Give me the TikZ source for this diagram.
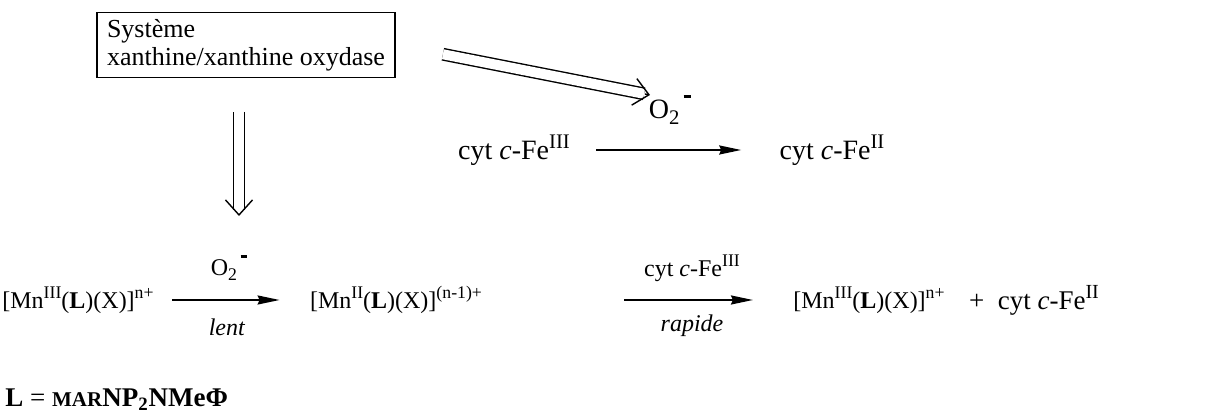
\documentclass[tikz,border=0pt]{standalone}
\usepackage{fontspec}
\setmainfont{Liberation Serif}
\usetikzlibrary{positioning,arrows.meta,calc}

\newcommand{\sups}[1]{\raisebox{0.4em}{\scalebox{0.74}{#1}}}
\newcommand{\superox}{O\raisebox{-0.22em}{\scalebox{0.74}{2}}\kern0.15em\raisebox{0.74em}{\rule{0.27em}{0.11em}}}
\newcommand{\cytFe}[1]{cyt \textit{c}-Fe\sups{#1}}
\newcommand{\mnc}[2]{[Mn\sups{#1}(\textbf{L})(X)]\sups{#2}}

\begin{document}
\begin{tikzpicture}[x=0.5pt, y=-0.5pt, font=\fontsize{12}{14}\selectfont,
        rxn/.style={-{Stealth[length=11pt, width=4.5pt, inset=1pt]}, line width=1pt},
        dbl/.style={double, double distance=5pt, line width=0.7pt, shorten >=3pt},
        chev/.style={-{Straight Barb[length=7.5pt, width=13.5pt]}, line width=0.7pt},
        txt/.style={inner sep=0pt},
        big/.style={txt, font=\fontsize{14}{16}\selectfont}]
        \useasboundingbox (0,0) rectangle (1217,415);

        % Source of superoxide
        \node[draw, line width=0.8pt, align=left, minimum width=149pt, minimum height=30pt,
              inner xsep=3pt, font=\fontsize{13}{14}\selectfont] (src) at (246,45) {Système\\xanthine/xanthine oxydase};

        % Upper reaction: cytochrome c reduction
        \node[big] (ox2) at (670,110) {\superox};
        \node[big] (cyt3) at (514,150) {\cytFe{III}};
        \node[big] (cyt2) at (832,150) {\cytFe{II}};

        % Lower reaction: the Mn complex
        \node[txt] (mn1) at (78,300) {\mnc{III}{n+}};
        \node[txt] (mn2) at (396,300) {\mnc{II}{(n-1)+}};
        \node[txt] (mn3) at (869,300) {\mnc{III}{n+}};
        \node[txt, font=\fontsize{13.5}{16}\selectfont] (cyt2b) at (1034,300) {+\ \ \cytFe{II}};

        % Reagents and conditions over/under the arrows
        \node[txt] (ox1) at (229,268) {\superox};
        \node[txt] (lent) at (227,327) {\textit{lent}};
        \node[txt] (cyt3b) at (692,268) {\cytFe{III}};
        \node[txt] (rap) at (692,326) {\textit{rapide}};

        % Double arrows from the source
        \coordinate (vtop) at (239,112);
        \coordinate (vbot) at (239,216);
        \coordinate (dtip) at (650,95);
        \draw[dbl] (vtop) -- (vbot);
        \draw[chev] ($(vtop)!0.98!(vbot)$) -- (vbot);
        \draw[dbl, shorten <=24pt] (src.east) -- (dtip);
        \draw[chev] ($(src.east)!0.98!(dtip)$) -- (dtip);

        % Reaction arrows
        \draw[rxn, shorten <=13pt, shorten >=19pt] (cyt3) -- (cyt2);
        \draw[rxn, shorten <=9pt, shorten >=15pt] (mn1) -- (mn2);
        \draw[rxn, shorten <=71pt, shorten >=20pt] (mn2) -- (mn3);

        % Ligand
        \node[txt, anchor=west, font=\fontsize{13.5}{16}\selectfont] (lig) at (5,400)
            {\textbf{L} = \textbf{{\fontsize{10.5}{12}\selectfont MAR}NP\textsubscript{2}NMeΦ}};
    \end{tikzpicture}
\end{document}
